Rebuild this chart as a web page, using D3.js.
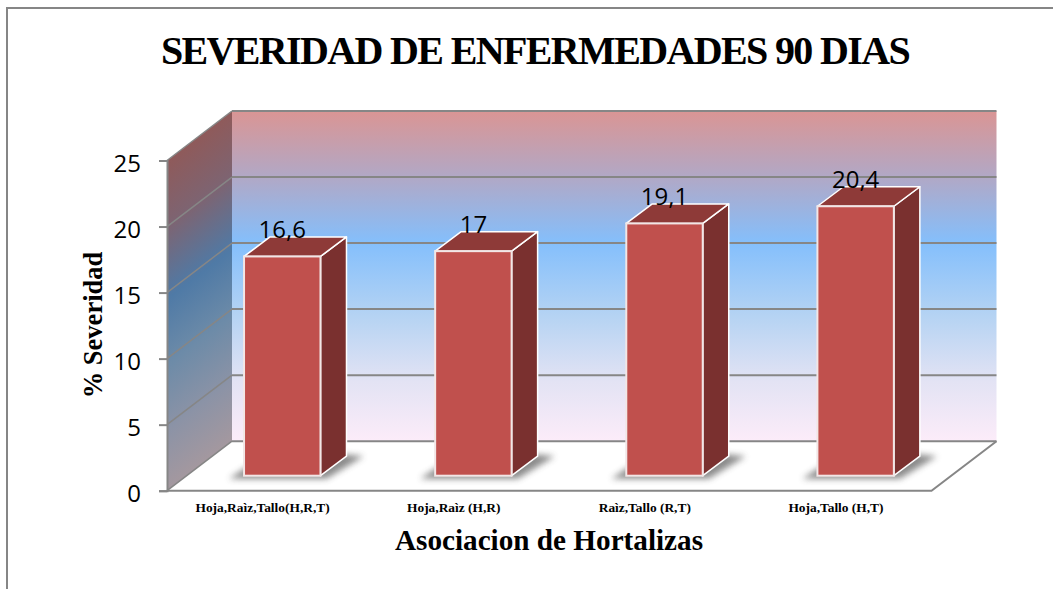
<!DOCTYPE html>
<html><head><meta charset="utf-8">
<script src="https://cdn.jsdelivr.net/npm/d3@7/dist/d3.min.js"></script>
<style>html,body{margin:0;padding:0;background:#fff}svg{display:block}</style>
</head><body><svg id="c" width="1053" height="589"></svg>
<script>
const categories = ["Hoja,Raìz,Tallo(H,R,T)", "Hoja,Raìz (H,R)", "Raìz,Tallo (R,T)", "Hoja,Tallo (H,T)"];
const values = [16.6, 17, 19.1, 20.4];
const valueLabels = ["16,6", "17", "19,1", "20,4"];
const yTicks = [0, 5, 10, 15, 20, 25];
const titleText = "SEVERIDAD DE ENFERMEDADES 90 DIAS";
const xTitleText = "Asociacion de Hortalizas";
const yTitleText = "% Severidad";

const GRID = "#868686", SERIF = "'Liberation Serif',serif", SANS = "'Open Sans',sans-serif";
const svg = d3.select("#c");
const defs = svg.append("defs");

const y = d3.scaleLinear().domain([0, 25]).range([490.7, 160.5]);
const x = d3.scaleBand().domain(categories).range([167, 931.5]).paddingInner(0.6).paddingOuter(0.3);
const depth = {dx: 65, dy: -49.5};
const inset = {dx: 19.7, dy: -15};
const barDepth = {dx: 26, dy: -19.5};
const x0 = x.range()[0], x1 = x.range()[1];
const pts = a => a.map(p => p.join(",")).join(" ");

// frame
svg.append("path").attr("d", "M7,589V8H1053").attr("fill", "none").attr("stroke", GRID).attr("stroke-width", 2);

// gradients
function grad(id, attrs, stops) {
  const g = defs.append("linearGradient").attr("id", id).attr("gradientUnits", "userSpaceOnUse");
  Object.entries(attrs).forEach(([k, v]) => g.attr(k, v));
  stops.forEach(s => g.append("stop").attr("offset", s[0]).attr("stop-color", s[1]));
}
grad("back", {x1: 0, x2: 0, y1: y(25) + depth.dy, y2: y(0) + depth.dy}, [
  [0, "#da9594"], [0.2, "#b1a8c6"], [0.4, "#84bffc"], [0.62, "#b5d3f3"], [0.82, "#e3e3f4"], [1, "#fcecf9"]
]);
const nLen = Math.hypot(49.5, 65), span = 330.2 * 65 / nLen;
grad("side", {
  x1: x0, y1: y(25),
  x2: x0 + 49.5 / nLen * span, y2: y(25) + 65 / nLen * span
}, [[0, "#8f5a5a"], [0.2, "#7d6472"], [0.42, "#4f7aa6"], [0.62, "#6d8ba8"], [0.82, "#8c93a6"], [1, "#a4989f"]]);

const blur = defs.append("filter").attr("id", "soft").attr("x", "-30%").attr("y", "-60%").attr("width", "160%").attr("height", "220%");
blur.append("feGaussianBlur").attr("stdDeviation", 3);

// walls
svg.append("polygon").attr("fill", "url(#back)").attr("points", pts([
  [x0 + depth.dx, y(25) + depth.dy], [x1 + depth.dx, y(25) + depth.dy], [x1 + depth.dx, y(0) + depth.dy], [x0 + depth.dx, y(0) + depth.dy]
]));
svg.append("polygon").attr("fill", "url(#side)").attr("points", pts([
  [x0, y(25)], [x0 + depth.dx, y(25) + depth.dy], [x0 + depth.dx, y(0) + depth.dy], [x0, y(0)]
]));

// gridlines
yTicks.forEach(t => {
  svg.append("line").attr("x1", x0).attr("y1", y(t)).attr("x2", x0 + depth.dx).attr("y2", y(t) + depth.dy)
    .attr("stroke", GRID).attr("stroke-width", 1.5);
  svg.append("line").attr("x1", x0 + depth.dx).attr("y1", y(t) + depth.dy).attr("x2", x1 + depth.dx).attr("y2", y(t) + depth.dy)
    .attr("stroke", GRID).attr("stroke-width", 2);
});
// floor
svg.append("polyline").attr("fill", "none").attr("stroke", GRID).attr("stroke-width", 2)
  .attr("points", pts([[x0, y(0)], [x1, y(0)], [x1 + depth.dx, y(0) + depth.dy]]));

// y axis
const yAxis = d3.axisLeft(y).tickValues(yTicks).tickSize(8).tickPadding(18);
const gy = svg.append("g").attr("transform", `translate(${x0},0)`).call(yAxis);
gy.selectAll("path,line").attr("stroke", GRID).attr("stroke-width", 2);
gy.selectAll("text").attr("font-family", SANS).attr("font-size", 24).attr("fill", "#000").attr("dy", "0.47em");

// bars
const base = y(0) + inset.dy;
const h = v => y(0) - y(v);
const bars = svg.selectAll("g.bar").data(values).join("g").attr("class", "bar");
const bx = (d, i) => x(categories[i]) + inset.dx;
const bw = x.bandwidth();
bars.append("polygon").attr("fill", "#444").attr("opacity", 0.62).attr("filter", "url(#soft)")
  .attr("points", (d, i) => pts([
    [bx(d, i) - 15, base + 3], [bx(d, i) + bw + 6, base + 3],
    [bx(d, i) + bw + barDepth.dx + 17, base + barDepth.dy], [bx(d, i) + bw + barDepth.dx - 4, base + barDepth.dy - 2],
    [bx(d, i) + 8, base - 12]
  ]));
bars.append("polygon").attr("fill", "#7a302f").attr("stroke", "#fff").attr("stroke-width", 1.5).attr("stroke-linejoin", "round")
  .attr("points", (d, i) => pts([
    [bx(d, i) + bw, base - h(d)], [bx(d, i) + bw + barDepth.dx, base - h(d) + barDepth.dy],
    [bx(d, i) + bw + barDepth.dx, base + barDepth.dy], [bx(d, i) + bw, base]
  ]));
bars.append("polygon").attr("fill", "#8e3a38").attr("stroke", "#fff").attr("stroke-width", 1.5).attr("stroke-linejoin", "round")
  .attr("points", (d, i) => pts([
    [bx(d, i), base - h(d)], [bx(d, i) + barDepth.dx, base - h(d) + barDepth.dy],
    [bx(d, i) + bw + barDepth.dx, base - h(d) + barDepth.dy], [bx(d, i) + bw, base - h(d)]
  ]));
bars.append("rect").attr("fill", "#c0504d").attr("stroke", "#f2e6e6").attr("stroke-width", 2)
  .attr("x", bx).attr("y", d => base - h(d)).attr("width", bw).attr("height", h);

// value labels
svg.selectAll("text.val").data(values).join("text").attr("class", "val")
  .attr("x", (d, i) => bx(d, i) + bw / 2).attr("y", d => base - h(d) - 18.5)
  .attr("text-anchor", "middle").attr("font-family", SANS).attr("font-size", 24).attr("fill", "#000")
  .text((d, i) => valueLabels[i]);

// category labels
svg.selectAll("text.cat").data(categories).join("text").attr("class", "cat")
  .attr("x", d => x(d) + x.bandwidth() / 2).attr("y", 511.5)
  .attr("text-anchor", "middle").attr("font-family", SERIF).attr("font-weight", "bold").attr("font-size", 13.4).attr("fill", "#000")
  .text(d => d);

// titles
svg.append("text").attr("x", 535).attr("y", 64).attr("text-anchor", "middle").attr("font-family", SERIF)
  .attr("font-weight", "bold").attr("font-size", 40).attr("letter-spacing", "-1.64").text(titleText);
svg.append("text").attr("x", 549).attr("y", 550).attr("text-anchor", "middle").attr("font-family", SERIF)
  .attr("font-weight", "bold").attr("font-size", 29.2).text(xTitleText);
svg.append("text").attr("transform", "translate(102,325) rotate(-90)").attr("text-anchor", "middle").attr("font-family", SERIF)
  .attr("font-weight", "bold").attr("font-size", 26.5).text(yTitleText);
</script></body></html>
